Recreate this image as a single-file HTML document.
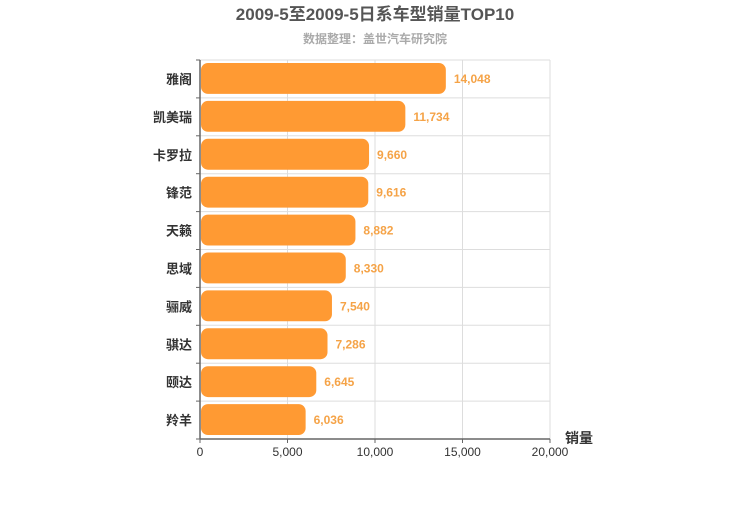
<!DOCTYPE html>
<html><head><meta charset="utf-8"><style>
body{margin:0;background:#fff;}
svg{font-family:"Liberation Sans","Noto Sans CJK SC",sans-serif;}
</style></head><body>
<svg id="c" width="750" height="500">
<text x="375" y="20" text-anchor="middle" font-size="17" font-weight="bold" fill="#555">2009-5至2009-5日系车型销量TOP10</text>
<text x="375" y="43" text-anchor="middle" font-size="12" font-weight="bold" fill="#aaa">数据整理：盖世汽车研究院</text>
<g id="g"></g>
</svg>
<script>
const categories=["雅阁","凯美瑞","卡罗拉","锋范","天籁","思域","骊威","骐达","颐达","羚羊"];
const values=[14048,11734,9660,9616,8882,8330,7540,7286,6645,6036];
const ticks=[0,5000,10000,15000,20000];
const tickLabels=["0","5,000","10,000","15,000","20,000"];
const NS="http://www.w3.org/2000/svg",g=document.getElementById('g');
const x0=200,x1=550,y0=60,y1=439,band=(y1-y0)/categories.length;
const xs=v=>x0+(v-0)/(20000-0)*(x1-x0);
function el(t,a,p){const e=document.createElementNS(NS,t);for(const k in a)e.setAttribute(k,a[k]);(p||g).appendChild(e);return e;}
ticks.forEach((t,i)=>{
 const gl=el('line',{x1:xs(t),x2:xs(t),y1:y0,y2:y1,stroke:'#ddd'});
 
 
 el('line',{x1:xs(t),x2:xs(t),y1:y1,y2:y1+4,stroke:'#666'});
 const tl=el('text',{x:xs(t),y:y1+17,'text-anchor':'middle','font-size':12,fill:'#333'});
 tl.textContent=tickLabels[i];
 
 
});
for(let i=0;i<=categories.length;i++){
 const y=y0+i*band;
 el('line',{x1:x0,x2:x1,y1:y,y2:y,stroke:'#ddd'});
 el('line',{x1:x0-4,x2:x0,y1:y,y2:y,stroke:'#666'});
}
categories.forEach((c,i)=>{
 const yt=y0+i*band;
 const b=el('rect',{x:x0+1,y:yt+3,width:xs(values[i])-x0-1,height:band-7,rx:7,fill:'#ff9a33'});
 
 
 const v=el('text',{x:xs(values[i])+8,y:yt+band/2+4,'font-size':12,'font-weight':'bold',fill:'#f5a347'});
 v.textContent=values[i].toLocaleString('en-US');
 
 
 const l=el('text',{x:x0-8,y:yt+band/2+5,'text-anchor':'end','font-size':13,'font-weight':'bold',fill:'#333'});
 l.textContent=c;
 
 
});
el('line',{x1:x0,x2:x0,y1:y0,y2:y1,stroke:'#666','stroke-width':1.5});
el('line',{x1:x0,x2:x1,y1:y1,y2:y1,stroke:'#666','stroke-width':1.5});
const at=el('text',{x:565,y:443,'font-size':14,'font-weight':'bold',fill:'#333'});
at.textContent='销量';


</script>
</body></html>
